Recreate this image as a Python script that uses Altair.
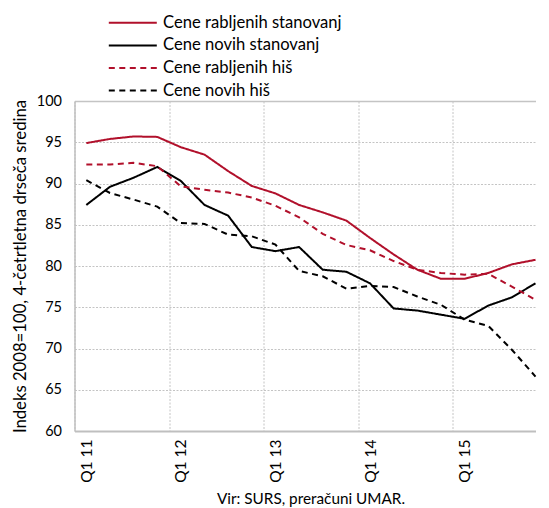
import json
import altair as alt
import pandas as pd

quarters = ["Q1 11", "Q2 11", "Q3 11", "Q4 11",
            "Q1 12", "Q2 12", "Q3 12", "Q4 12",
            "Q1 13", "Q2 13", "Q3 13", "Q4 13",
            "Q1 14", "Q2 14", "Q3 14", "Q4 14",
            "Q1 15", "Q2 15", "Q3 15", "Q4 15"]

series_names = ["Cene rabljenih stanovanj", "Cene novih stanovanj",
                "Cene rabljenih hiš", "Cene novih hiš"]

rabljena_stanovanja = [94.9, 95.4, 95.7, 95.65, 94.4, 93.5, 91.5, 89.7, 88.8, 87.4,
                       86.5, 85.5, 83.4, 81.4, 79.55, 78.45, 78.45, 79.15, 80.2, 80.75]
nova_stanovanja = [87.4, 89.6, 90.7, 92.0, 90.3, 87.4, 86.1, 82.3, 81.8, 82.3,
                   79.55, 79.3, 77.9, 74.85, 74.6, 74.1, 73.6, 75.2, 76.2, 77.9]
rabljene_hise = [92.3, 92.3, 92.5, 92.1, 89.65, 89.25, 88.9, 88.3, 87.3, 85.9,
                 83.9, 82.55, 81.9, 80.6, 79.55, 79.15, 78.95, 79.05, 77.5, 75.9]
nove_hise = [90.4, 88.85, 88.05, 87.2, 85.2, 85.1, 83.8, 83.6, 82.6, 79.4,
             78.75, 77.25, 77.6, 77.45, 76.3, 75.3, 73.5, 72.75, 69.85, 66.6]

y_ticks = [60, 65, 70, 75, 80, 85, 90, 95, 100]
x_label_idx = [0, 4, 8, 12, 16]

colors = ["#b1102b", "#000000", "#b1102b", "#000000"]
dashes = [[1, 0], [1, 0], [6, 4.5], [6, 4.5]]

rows = []
for name, vals in zip(series_names, [rabljena_stanovanja, nova_stanovanja, rabljene_hise, nove_hise]):
    for i, v in enumerate(vals):
        rows.append({"s": name, "i": i, "q": quarters[i], "v": v})
df = pd.DataFrame(rows)

# the original plot area runs past the right edge of the picture; show up to the last quarter
X_MAX = 19.0
W = 461
H = 330
bw = W / (X_MAX + 0.5)
FONT = "Lato"
GRAY = "#bfbfbf"

legend = alt.Legend(
    title=None, orient="none", legendX=50, legendY=-86.5,
    symbolType="M-4,0H4", symbolSize=144, symbolStrokeWidth=2,
    labelFontSize=16.6, labelFont=FONT, labelColor="#000000", labelLimit=400,
    rowPadding=5.6, labelOffset=22, padding=0,
)

chart = alt.Chart(df).mark_line(strokeWidth=2).encode(
    x=alt.X("i:Q",
            scale=alt.Scale(domain=[-0.5, X_MAX], nice=False, zero=False),
            axis=alt.Axis(values=x_label_idx,
                          labelExpr=json.dumps(quarters, ensure_ascii=False) + "[datum.value]",
                          labelAngle=-90, tickOffset=-bw / 2, labelOffset=bw / 2,
                          grid=True, ticks=False, domain=True, domainColor=GRAY, domainWidth=2,
                          labelPadding=8, labelFontSize=15.5,
                          title="Vir: SURS, preračuni UMAR.", titlePadding=9,
                          titleFontSize=15.3, titleX=236)),
    y=alt.Y("v:Q",
            scale=alt.Scale(domain=[60, 100], nice=False, zero=False),
            axis=alt.Axis(values=y_ticks, ticks=False, domain=True, domainColor=GRAY, domainWidth=1.5,
                          labelPadding=13, labelFontSize=14.5,
                          gridDash={"condition": {"test": "datum.value === 100", "value": []},
                                    "value": [2, 1.5]},
                          gridWidth={"condition": {"test": "datum.value === 100", "value": 1.5},
                                     "value": 1},
                          title="Indeks 2008=100, 4-četrtletna drseča sredina",
                          titlePadding=6.5, titleFontSize=16.7)),
    color=alt.Color("s:N", scale=alt.Scale(domain=series_names, range=colors), legend=legend),
    strokeDash=alt.StrokeDash("s:N", scale=alt.Scale(domain=series_names, range=dashes), legend=legend),
    order="i:Q",
).properties(
    width=W, height=H,
    padding={"left": 4.5, "top": 6, "right": 0, "bottom": 0},
).configure_view(
    stroke=None,
).configure_axis(
    labelFont=FONT, titleFont=FONT,
    labelColor="#000000", titleColor="#000000", titleFontWeight="normal",
    gridColor="#c4c4c4", gridDash=[2, 1.5], gridWidth=1,
)

chart.save("out.html", embed_options={"renderer": "svg", "actions": False})
